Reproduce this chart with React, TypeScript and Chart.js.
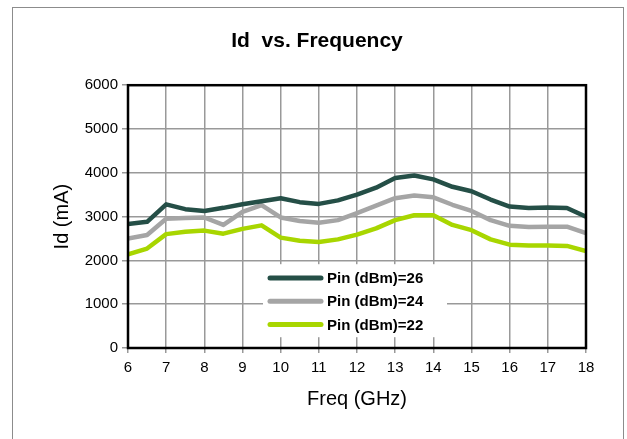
import React, { useEffect, useRef } from "react";
import { Chart, registerables } from "chart.js";

Chart.register(...registerables);

const freqs = [6, 6.5, 7, 7.5, 8, 8.5, 9, 9.5, 10, 10.5, 11, 11.5, 12, 12.5, 13, 13.5, 14, 14.5, 15, 15.5, 16, 16.5, 17, 17.5, 18];
const pin26 = [2830, 2880, 3280, 3170, 3130, 3200, 3280, 3350, 3420, 3330, 3290, 3370, 3500, 3660, 3880, 3940, 3850, 3680, 3580, 3390, 3230, 3195, 3210, 3195, 3000];
const pin24 = [2500, 2580, 2950, 2970, 2980, 2810, 3110, 3260, 2980, 2900, 2860, 2920, 3080, 3250, 3420, 3480, 3440, 3270, 3130, 2920, 2790, 2760, 2770, 2770, 2620];
const pin22 = [2140, 2270, 2600, 2655, 2680, 2610, 2720, 2800, 2520, 2450, 2420, 2480, 2590, 2730, 2920, 3030, 3030, 2810, 2690, 2480, 2360, 2340, 2340, 2330, 2210];
const seriesLabels = ["Pin (dBm)=26", "Pin (dBm)=24", "Pin (dBm)=22"];
const seriesColors = ["#254f47", "#a5a5a5", "#a8d600"];
const xTicks = { min: 6, max: 18, step: 1 };
const yTicks = { min: 0, max: 6000, step: 1000 };

const FONT = "'Liberation Sans', Arial, sans-serif";

const framePlugin = {
  id: "frames",
  beforeDraw(chart: any) {
    const ctx = chart.ctx;
    ctx.save();
    ctx.fillStyle = "#fff";
    ctx.fillRect(0, 0, chart.width, chart.height);
    ctx.strokeStyle = "#8c8c8c";
    ctx.lineWidth = 1;
    ctx.strokeRect(12.5, 7.5, 611, 460);
    ctx.restore();
  },
  afterDatasetsDraw(chart: any) {
    const ctx = chart.ctx;
    const { left, top, right, bottom } = chart.chartArea;
    ctx.save();
    ctx.strokeStyle = "#000";
    ctx.lineWidth = 2.5;
    ctx.strokeRect(left, top, right - left, bottom - top);
    // legend inside plot area
    const bx = left + 135;
    const by = top + 179;
    ctx.fillStyle = "#fff";
    ctx.fillRect(bx, by, 184, 73);
    chart.data.datasets.forEach((ds: any, i: number) => {
      const y = top + 192.7 + i * 23.3;
      ctx.strokeStyle = ds.borderColor;
      ctx.lineWidth = 5;
      ctx.lineCap = "round";
      ctx.beginPath();
      ctx.moveTo(left + 142, y);
      ctx.lineTo(left + 193, y);
      ctx.stroke();
      ctx.fillStyle = "#000";
      ctx.font = `bold 15px ${FONT}`;
      ctx.textBaseline = "middle";
      ctx.textAlign = "left";
      ctx.fillText(ds.label, left + 199, y + 1);
    });
    ctx.restore();
  },
};

export default function App() {
  const ref = useRef<HTMLCanvasElement>(null);
  useEffect(() => {
    if (!ref.current) return;
    const mk = (vals: number[]) => freqs.map((f, i) => ({ x: f, y: vals[i] }));
    const all = [pin26, pin24, pin22];
    const chart = new Chart(ref.current, {
      type: "line",
      data: {
        datasets: all.map((vals, i) => ({
          label: seriesLabels[i],
          data: mk(vals),
          borderColor: seriesColors[i],
          backgroundColor: seriesColors[i],
          borderWidth: 4.5,
          pointRadius: 0,
          tension: 0,
          borderJoinStyle: "round" as const,
        })),
      },
      options: {
        responsive: false,
        animation: false,
        layout: { padding: { left: 48, right: 41, top: 0, bottom: 11 } },
        plugins: {
          legend: { display: false },
          tooltip: { enabled: false },
          title: {
            display: true,
            text: "Id  vs. Frequency",
            color: "#000",
            font: { family: FONT, size: 21, weight: "bold" },
            padding: { top: 29, bottom: 31 },
          },
        },
        scales: {
          x: {
            type: "linear",
            min: xTicks.min,
            max: xTicks.max,
            afterFit: (s: any) => {
              s.height = 80;
            },
            ticks: {
              stepSize: xTicks.step,
              color: "#000",
              font: { family: FONT, size: 15 },
              padding: 6,
              maxRotation: 0,
            },
            grid: { color: "#999", lineWidth: 1.5, tickLength: 5 },
            border: { color: "#000", width: 2 },
            title: {
              display: true,
              text: "Freq (GHz)",
              color: "#000",
              font: { family: FONT, size: 20 },
              padding: { top: 0, bottom: 17 },
            },
          },
          y: {
            min: yTicks.min,
            max: yTicks.max,
            afterFit: (s: any) => {
              s.width = 80;
            },
            ticks: {
              stepSize: yTicks.step,
              color: "#000",
              font: { family: FONT, size: 15 },
              padding: 4,
              callback: (v: any) => String(v),
            },
            grid: { color: "#999", lineWidth: 1.5, tickLength: 6 },
            border: { color: "#000", width: 2 },
            title: {
              display: true,
              text: "Id (mA)",
              color: "#000",
              font: { family: FONT, size: 20 },
              padding: { top: 2, bottom: 0 },
            },
          },
        },
      },
      plugins: [framePlugin],
    });
    return () => chart.destroy();
  }, []);
  return (
    <div style={{ position: "absolute", left: 0, top: 0 }}>
      <canvas ref={ref} width={627} height={439} style={{ display: "block", width: 627, height: 439 }} />
    </div>
  );
}
